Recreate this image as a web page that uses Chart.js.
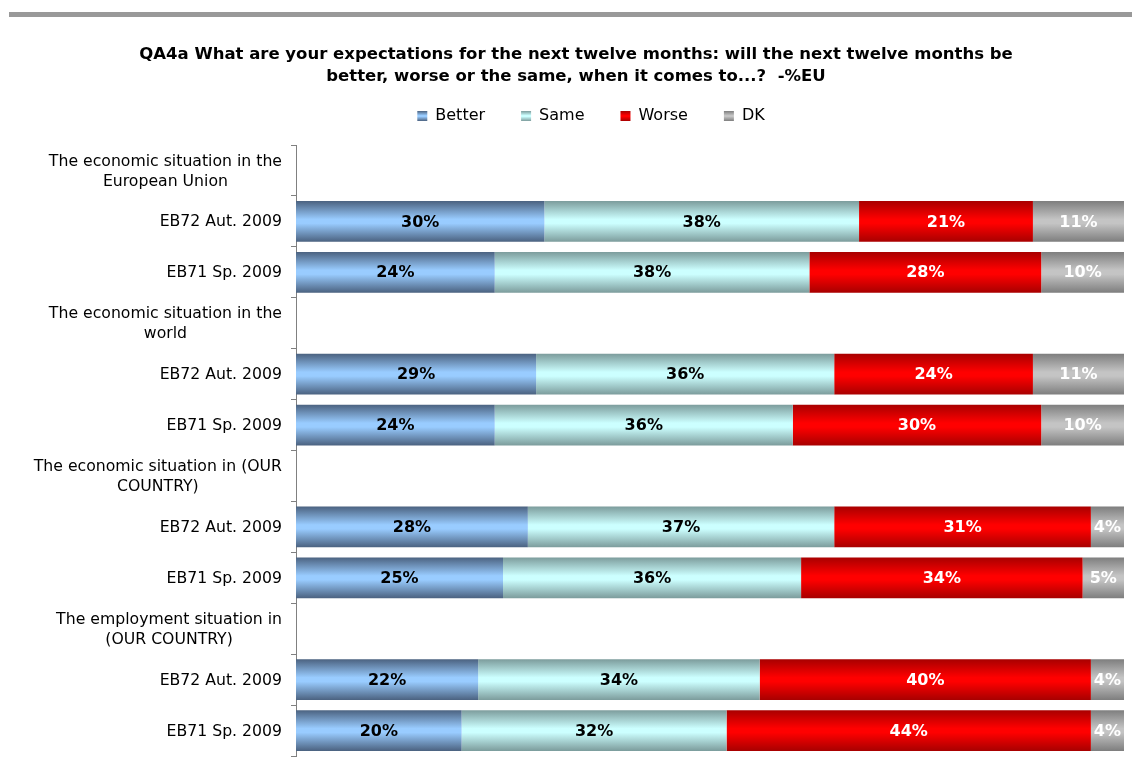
<!DOCTYPE html>
<html>
<head>
<meta charset="utf-8">
<script src="https://cdn.jsdelivr.net/npm/chart.js@4.4.1/dist/chart.umd.min.js"></script>
<style>
  html, body { margin: 0; padding: 0; background: #ffffff; }
  #wrap { position: relative; width: 1132px; height: 768px; }
  #topbar { position: absolute; left: 9px; right: 0; top: 12px; height: 5px; background: #999999; }
  canvas { position: absolute; left: 0; top: 0; }
</style>
</head>
<body>
<div id="wrap">
  <div id="topbar"></div>
  <canvas id="c" width="1132" height="768"></canvas>
</div>
<script>
// ---- Data ----
const titleLines = [
  'QA4a What are your expectations for the next twelve months: will the next twelve months be',
  'better, worse or the same, when it comes to...?  -%EU'
];
const categories = [
  ['The economic situation in the', 'European Union'],
  'EB72 Aut. 2009',
  'EB71 Sp. 2009',
  ['The economic situation in the', 'world'],
  'EB72 Aut. 2009',
  'EB71 Sp. 2009',
  ['The economic situation in (OUR', 'COUNTRY)'],
  'EB72 Aut. 2009',
  'EB71 Sp. 2009',
  ['The employment situation in', '(OUR COUNTRY)'],
  'EB72 Aut. 2009',
  'EB71 Sp. 2009'
];
const seriesNames = ['Better', 'Same', 'Worse', 'DK'];
const better = [null, 30, 24, null, 29, 24, null, 28, 25, null, 22, 20];
const same   = [null, 38, 38, null, 36, 36, null, 37, 36, null, 34, 32];
const worse  = [null, 21, 28, null, 24, 30, null, 31, 34, null, 40, 44];
const dk     = [null, 11, 10, null, 11, 10, null,  4,  5, null,  4,  4];

// ---- Styles ----
const FONT = "'DejaVu Sans', Verdana, sans-serif";
const gradColors = [
  { edge: '#4b6280', mid: '#99ccff' },
  { edge: '#7c9c9c', mid: '#ccffff' },
  { edge: '#a80000', mid: '#ff0000' },
  { edge: '#7e7e7e', mid: '#c4c4c4' }
];
const labelColors = ['#000000', '#000000', '#ffffff', '#ffffff'];
const BAR_PCT = 0.8;
const LABEL_FONT_SIZE = 15.7;
const LEGEND_FONT_SIZE = 16;
const LEGEND_PAD = 36;
const LEGEND_SHIFT = 15;

Chart.defaults.font.family = FONT;
Chart.defaults.color = '#000000';

function makeGrad(ctx, top, bottom, gc) {
  const g = ctx.createLinearGradient(0, top, 0, bottom);
  g.addColorStop(0, gc.edge);
  g.addColorStop(0.45, gc.mid);
  g.addColorStop(0.55, gc.mid);
  g.addColorStop(1, gc.edge);
  return g;
}

function barBg(dsIndex) {
  return function (c) {
    const chart = c.chart;
    const ys = chart.scales && chart.scales.y;
    if (c.type !== 'data' || !ys || !chart.chartArea) return gradColors[dsIndex].mid;
    const yc = ys.getPixelForValue(c.dataIndex);
    const band = Math.abs(ys.getPixelForValue(1) - ys.getPixelForValue(0));
    const h = band * BAR_PCT;
    return makeGrad(chart.ctx, yc - h / 2, yc + h / 2, gradColors[dsIndex]);
  };
}

const seriesData = [better, same, worse, dk];
const datasets = seriesNames.map((name, i) => ({
  label: name,
  data: seriesData[i],
  backgroundColor: barBg(i),
  borderWidth: 0,
  barPercentage: BAR_PCT,
  categoryPercentage: 1.0
}));

// Shift legend horizontally to match the reference placement
const legendShift = {
  id: 'legendShift',
  afterUpdate(chart) {
    const lg = chart.legend;
    if (!lg) return;
    lg.left += LEGEND_SHIFT;
    lg.right += LEGEND_SHIFT;
    const yc = lg.top + LEGEND_PAD + LEGEND_FONT_SIZE / 2;
    (lg.legendItems || []).forEach((it, i) => {
      it.fillStyle = makeGrad(chart.ctx, yc - 5, yc + 5, gradColors[i]);
    });
  }
};

// Value labels inside bars
const valueLabels = {
  id: 'valueLabels',
  afterDatasetsDraw(chart) {
    const ctx = chart.ctx;
    ctx.save();
    ctx.font = 'bold 16px ' + FONT;
    ctx.textAlign = 'center';
    ctx.textBaseline = 'middle';
    chart.data.datasets.forEach((ds, i) => {
      const meta = chart.getDatasetMeta(i);
      ctx.fillStyle = labelColors[i];
      meta.data.forEach((el, j) => {
        const v = ds.data[j];
        if (v === null || v === undefined) return;
        const p = el.getProps(['x', 'base', 'y'], true);
        ctx.fillText(v + '%', (p.x + p.base) / 2, p.y + 1);
      });
    });
    ctx.restore();
  }
};

// Category labels: right-aligned block, lines centred within the block
const catLabels = {
  id: 'catLabels',
  afterDraw(chart) {
    const ys = chart.scales.y;
    const ctx = chart.ctx;
    const xRight = chart.chartArea.left - 14;
    const lh = 20;
    ctx.save();
    ctx.font = LABEL_FONT_SIZE + 'px ' + FONT;
    ctx.fillStyle = '#000000';
    ctx.textBaseline = 'middle';
    chart.data.labels.forEach((lab, i) => {
      const yc = ys.getPixelForValue(i);
      const lines = Array.isArray(lab) ? lab : [lab];
      const w = Math.max.apply(null, lines.map(l => ctx.measureText(l).width));
      const cx = xRight - w / 2;
      ctx.textAlign = 'center';
      lines.forEach((l, k) => {
        const y = yc + (k - (lines.length - 1) / 2) * lh + 1;
        ctx.fillText(l, cx, y);
      });
    });
    ctx.restore();
  }
};

new Chart(document.getElementById('c'), {
  type: 'bar',
  data: { labels: categories, datasets: datasets },
  plugins: [legendShift, valueLabels, catLabels],
  options: {
    indexAxis: 'y',
    responsive: false,
    animation: false,
    layout: { padding: { top: 0, left: 28, right: 8, bottom: 12 } },
    plugins: {
      title: {
        display: true,
        text: titleLines,
        color: '#000000',
        font: { size: 16.5, weight: 'bold', lineHeight: '21.5px', family: FONT },
        padding: { top: 44, bottom: -15 }
      },
      legend: {
        display: true,
        position: 'top',
        labels: {
          boxWidth: 10,
          boxHeight: 10,
          padding: LEGEND_PAD,
          color: '#000000',
          font: { size: LEGEND_FONT_SIZE, family: FONT }
        }
      },
      tooltip: { enabled: false }
    },
    scales: {
      x: {
        type: 'linear',
        position: 'top',
        stacked: true,
        min: 0,
        max: 100,
        display: true,
        grid: { display: false },
        border: { display: false },
        ticks: { display: false },
        afterFit(s) { s.height = 11; }
      },
      y: {
        type: 'category',
        position: 'left',
        stacked: true,
        offset: true,
        grid: {
          display: true,
          drawOnChartArea: false,
          drawTicks: true,
          tickLength: 5,
          color: '#808080',
          lineWidth: 1,
          offset: true
        },
        border: { display: true, color: '#808080', width: 1 },
        ticks: { display: false },
        afterFit(s) { s.width = 268; }
      }
    }
  }
});
</script>
</body>
</html>
